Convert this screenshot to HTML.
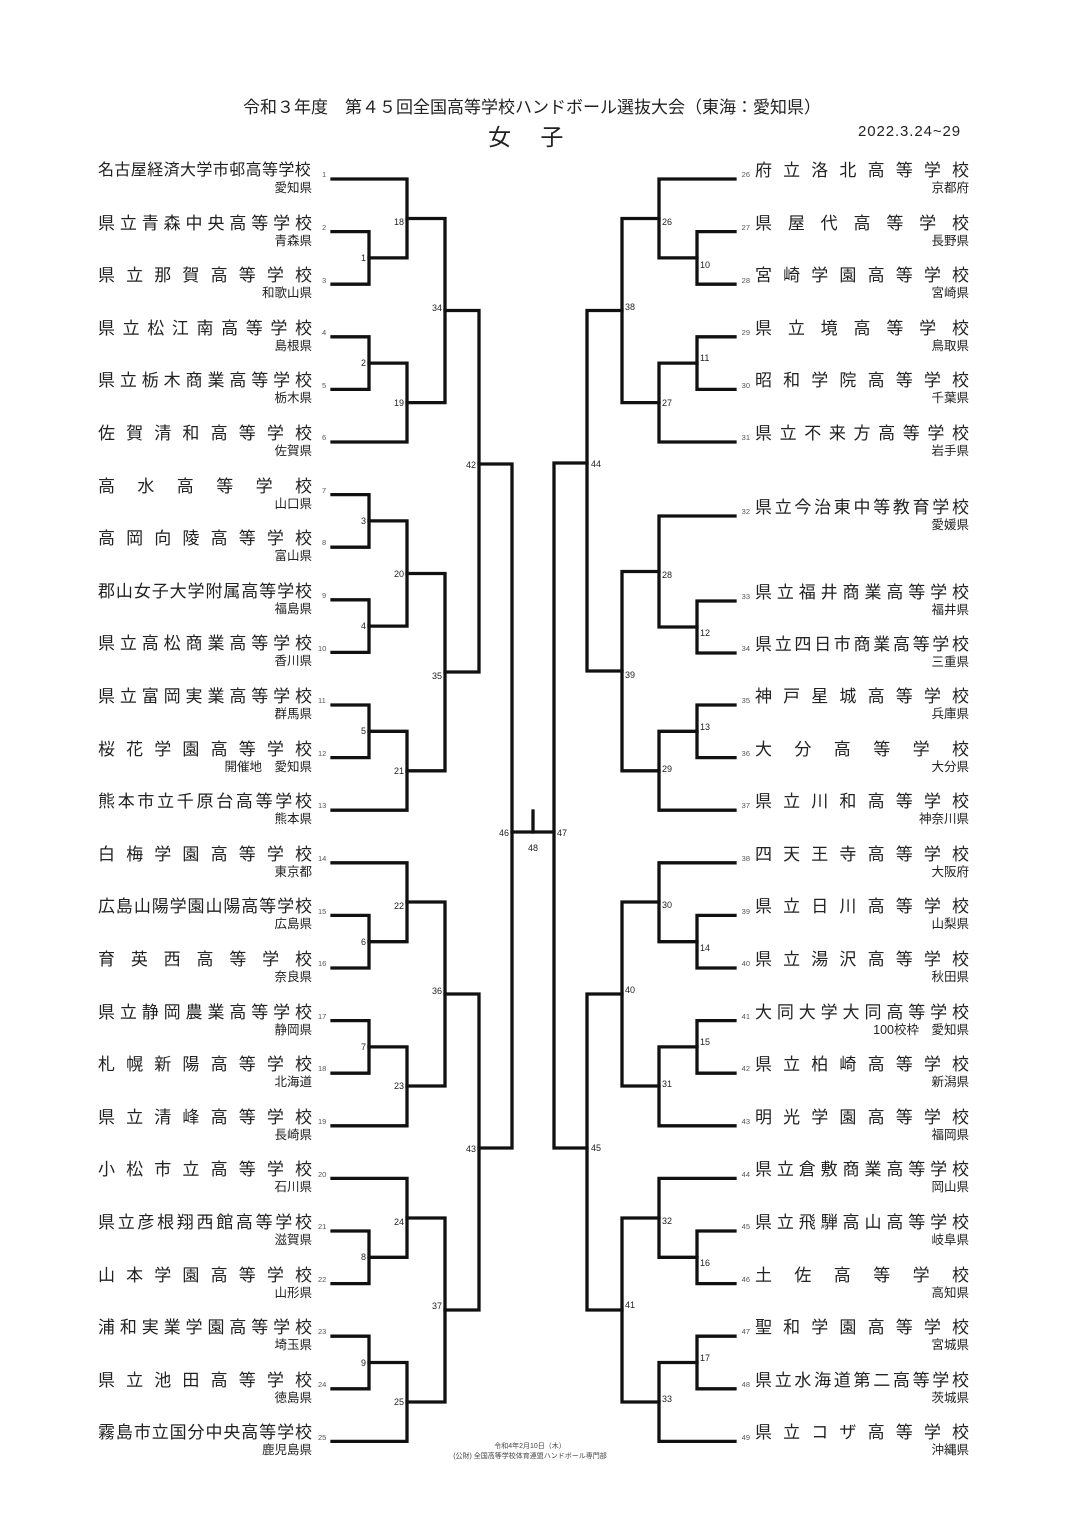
<!DOCTYPE html>
<html><head><meta charset="utf-8">
<style>
body{margin:0;background:#fff;}
#pg{position:relative;width:1086px;height:1536px;overflow:hidden;background:#fff;font-family:"Liberation Sans","Noto Sans CJK JP",sans-serif;color:#222;}
.n{position:absolute;width:214px;font-size:17px;line-height:20px;height:20px;text-align:justify;text-align-last:justify;text-justify:inter-character;white-space:nowrap;}
.p{position:absolute;width:214px;font-size:12.5px;line-height:14px;text-align:right;white-space:nowrap;}
.L{left:98px}.R{left:755px}
svg{position:absolute;left:0;top:0}
</style></head><body><div id="pg">
<div style="position:absolute;left:243px;top:97px;font-size:17px;line-height:22px;white-space:nowrap;">令和３年度　第４５回全国高等学校ハンドボール選抜大会（東海：愛知県）</div>
<div style="position:absolute;left:488px;top:123px;font-size:23px;line-height:28px;white-space:nowrap;">女　 子</div>
<div style="position:absolute;left:858px;top:123px;font-size:15px;letter-spacing:0.9px;line-height:18px;white-space:nowrap;">2022.3.24~29</div>
<div style="position:absolute;left:430px;top:1442px;width:200px;text-align:center;font-size:7px;line-height:10px;color:#444;">令和4年2月10日（木）<br>(公財) 全国高等学校体育連盟ハンドボール専門部</div>

<!-- left names -->
<div class="n L" style="top:161px;font-size:16px;text-align:left;text-align-last:left;letter-spacing:0.4px">名古屋経済大学市邨高等学校</div><div class="p L" style="top:181px">愛知県</div>
<div class="n L" style="top:213.6px">県立青森中央高等学校</div><div class="p L" style="top:233.6px">青森県</div>
<div class="n L" style="top:266.2px">県立那賀高等学校</div><div class="p L" style="top:286.2px">和歌山県</div>
<div class="n L" style="top:318.8px">県立松江南高等学校</div><div class="p L" style="top:338.8px">島根県</div>
<div class="n L" style="top:371.4px">県立栃木商業高等学校</div><div class="p L" style="top:391.4px">栃木県</div>
<div class="n L" style="top:424px">佐賀清和高等学校</div><div class="p L" style="top:444px">佐賀県</div>
<div class="n L" style="top:476.6px">高水高等学校</div><div class="p L" style="top:496.6px">山口県</div>
<div class="n L" style="top:529.2px">高岡向陵高等学校</div><div class="p L" style="top:549.2px">富山県</div>
<div class="n L" style="top:581.8px">郡山女子大学附属高等学校</div><div class="p L" style="top:601.8px">福島県</div>
<div class="n L" style="top:634.4px">県立高松商業高等学校</div><div class="p L" style="top:654.4px">香川県</div>
<div class="n L" style="top:687px">県立富岡実業高等学校</div><div class="p L" style="top:707px">群馬県</div>
<div class="n L" style="top:739.6px">桜花学園高等学校</div><div class="p L" style="top:759.6px">開催地　愛知県</div>
<div class="n L" style="top:792.2px">熊本市立千原台高等学校</div><div class="p L" style="top:812.2px">熊本県</div>
<div class="n L" style="top:844.8px">白梅学園高等学校</div><div class="p L" style="top:864.8px">東京都</div>
<div class="n L" style="top:897.4px">広島山陽学園山陽高等学校</div><div class="p L" style="top:917.4px">広島県</div>
<div class="n L" style="top:950px">育英西高等学校</div><div class="p L" style="top:970px">奈良県</div>
<div class="n L" style="top:1002.6px">県立静岡農業高等学校</div><div class="p L" style="top:1022.6px">静岡県</div>
<div class="n L" style="top:1055.2px">札幌新陽高等学校</div><div class="p L" style="top:1075.2px">北海道</div>
<div class="n L" style="top:1107.8px">県立清峰高等学校</div><div class="p L" style="top:1127.8px">長崎県</div>
<div class="n L" style="top:1160.4px">小松市立高等学校</div><div class="p L" style="top:1180.4px">石川県</div>
<div class="n L" style="top:1213px">県立彦根翔西館高等学校</div><div class="p L" style="top:1233px">滋賀県</div>
<div class="n L" style="top:1265.6px">山本学園高等学校</div><div class="p L" style="top:1285.6px">山形県</div>
<div class="n L" style="top:1318.2px">浦和実業学園高等学校</div><div class="p L" style="top:1338.2px">埼玉県</div>
<div class="n L" style="top:1370.8px">県立池田高等学校</div><div class="p L" style="top:1390.8px">徳島県</div>
<div class="n L" style="top:1423.4px">霧島市立国分中央高等学校</div><div class="p L" style="top:1443.4px">鹿児島県</div>

<!-- right names -->
<div class="n R" style="top:161px">府立洛北高等学校</div><div class="p R" style="top:181px">京都府</div>
<div class="n R" style="top:213.6px">県屋代高等学校</div><div class="p R" style="top:233.6px">長野県</div>
<div class="n R" style="top:266.2px">宮崎学園高等学校</div><div class="p R" style="top:286.2px">宮崎県</div>
<div class="n R" style="top:318.8px">県立境高等学校</div><div class="p R" style="top:338.8px">鳥取県</div>
<div class="n R" style="top:371.4px">昭和学院高等学校</div><div class="p R" style="top:391.4px">千葉県</div>
<div class="n R" style="top:424px">県立不来方高等学校</div><div class="p R" style="top:444px">岩手県</div>
<div class="n R" style="top:498px">県立今治東中等教育学校</div><div class="p R" style="top:518px">愛媛県</div>
<div class="n R" style="top:583px">県立福井商業高等学校</div><div class="p R" style="top:603px">福井県</div>
<div class="n R" style="top:635px">県立四日市商業高等学校</div><div class="p R" style="top:655px">三重県</div>
<div class="n R" style="top:687px">神戸星城高等学校</div><div class="p R" style="top:707px">兵庫県</div>
<div class="n R" style="top:739.6px">大分高等学校</div><div class="p R" style="top:759.6px">大分県</div>
<div class="n R" style="top:792.2px">県立川和高等学校</div><div class="p R" style="top:812.2px">神奈川県</div>
<div class="n R" style="top:844.8px">四天王寺高等学校</div><div class="p R" style="top:864.8px">大阪府</div>
<div class="n R" style="top:897.4px">県立日川高等学校</div><div class="p R" style="top:917.4px">山梨県</div>
<div class="n R" style="top:950px">県立湯沢高等学校</div><div class="p R" style="top:970px">秋田県</div>
<div class="n R" style="top:1002.6px">大同大学大同高等学校</div><div class="p R" style="top:1022.6px">100校枠　愛知県</div>
<div class="n R" style="top:1055.2px">県立柏崎高等学校</div><div class="p R" style="top:1075.2px">新潟県</div>
<div class="n R" style="top:1107.8px">明光学園高等学校</div><div class="p R" style="top:1127.8px">福岡県</div>
<div class="n R" style="top:1160.4px">県立倉敷商業高等学校</div><div class="p R" style="top:1180.4px">岡山県</div>
<div class="n R" style="top:1213px">県立飛騨高山高等学校</div><div class="p R" style="top:1233px">岐阜県</div>
<div class="n R" style="top:1265.6px">土佐高等学校</div><div class="p R" style="top:1285.6px">高知県</div>
<div class="n R" style="top:1318.2px">聖和学園高等学校</div><div class="p R" style="top:1338.2px">宮城県</div>
<div class="n R" style="top:1370.8px">県立水海道第二高等学校</div><div class="p R" style="top:1390.8px">茨城県</div>
<div class="n R" style="top:1423.4px">県立コザ高等学校</div><div class="p R" style="top:1443.4px">沖縄県</div>

<svg width="1086" height="1536" viewBox="0 0 1086 1536">
<g fill="none" stroke="#111" stroke-width="3.3" stroke-linejoin="miter" stroke-linecap="square">
<path d="M332 231.6H369V284.2H332"/>
<path d="M332 336.8H369V389.4H332"/>
<path d="M332 494.6H369V547.2H332"/>
<path d="M332 599.8H369V652.4H332"/>
<path d="M332 705H369V757.6H332"/>
<path d="M332 915.4H369V968H332"/>
<path d="M332 1020.6H369V1073.2H332"/>
<path d="M332 1231H369V1283.6H332"/>
<path d="M332 1336.2H369V1388.8H332"/>
<path d="M332 179H407V257.9H369"/>
<path d="M369 363.1H407V442H332"/>
<path d="M369 520.9H407V626.1H369"/>
<path d="M369 731.3H407V810.2H332"/>
<path d="M332 862.8H407V941.7H369"/>
<path d="M369 1046.9H407V1125.8H332"/>
<path d="M332 1178.4H407V1257.3H369"/>
<path d="M369 1362.5H407V1441.4H332"/>
<path d="M407 218.5H445V402.6H407"/>
<path d="M407 573.5H445V770.8H407"/>
<path d="M407 902H445V1086H407"/>
<path d="M407 1218H445V1402H407"/>
<path d="M445 310.5H479V672H445"/>
<path d="M445 994H479V1310H445"/>
<path d="M479 464H512V1148H479"/>
<path d="M512 832H554"/>
<path d="M533 811V832"/>
<path d="M735 231.6H697V284.2H735"/>
<path d="M735 336.8H697V389.4H735"/>
<path d="M735 601H697V653H735"/>
<path d="M735 705H697V757.6H735"/>
<path d="M735 915.4H697V968H735"/>
<path d="M735 1020.6H697V1073.2H735"/>
<path d="M735 1231H697V1283.6H735"/>
<path d="M735 1336.2H697V1388.8H735"/>
<path d="M735 179H659V257.9H697"/>
<path d="M697 363.1H659V442H735"/>
<path d="M735 516H659V627H697"/>
<path d="M697 731.3H659V810.2H735"/>
<path d="M735 862.8H659V941.7H697"/>
<path d="M697 1046.9H659V1125.8H735"/>
<path d="M735 1178.4H659V1257.3H697"/>
<path d="M697 1362.5H659V1441.4H735"/>
<path d="M659 218.5H622V402.6H659"/>
<path d="M659 571.5H622V770.8H659"/>
<path d="M659 902H622V1086H659"/>
<path d="M659 1218H622V1402H659"/>
<path d="M622 310.5H587V671H622"/>
<path d="M622 994H587V1310H622"/>
<path d="M587 463H554V1148H587"/>
</g>
<g font-family="Liberation Sans, sans-serif" font-size="9" fill="#222">
<g text-anchor="end">
<text x="366" y="261">1</text><text x="366" y="366">2</text><text x="366" y="524">3</text><text x="366" y="629">4</text><text x="366" y="734">5</text><text x="366" y="945">6</text><text x="366" y="1050">7</text><text x="366" y="1260">8</text><text x="366" y="1366">9</text>
<text x="404" y="225">18</text><text x="404" y="406">19</text><text x="404" y="577">20</text><text x="404" y="774">21</text><text x="404" y="909">22</text><text x="404" y="1089">23</text><text x="404" y="1225">24</text><text x="404" y="1405">25</text>
<text x="442" y="311">34</text><text x="442" y="679">35</text><text x="442" y="994">36</text><text x="442" y="1309">37</text>
<text x="476" y="468">42</text><text x="476" y="1152">43</text>
<text x="509" y="836">46</text>
</g>
<text x="700" y="268">10</text><text x="700" y="361">11</text><text x="700" y="636">12</text><text x="700" y="730">13</text><text x="700" y="951">14</text><text x="700" y="1045">15</text><text x="700" y="1266">16</text><text x="700" y="1361">17</text>
<text x="662" y="225">26</text><text x="662" y="406">27</text><text x="662" y="578">28</text><text x="662" y="772">29</text><text x="662" y="908">30</text><text x="662" y="1087">31</text><text x="662" y="1224">32</text><text x="662" y="1402">33</text>
<text x="625" y="310">38</text><text x="625" y="678">39</text><text x="625" y="993">40</text><text x="625" y="1308">41</text>
<text x="591" y="467">44</text><text x="591" y="1151">45</text>
<text x="557" y="836">47</text>
<text x="528" y="851">48</text>
</g>
<g font-family="Liberation Sans, sans-serif" font-size="7.5" fill="#555">
<g text-anchor="start">
<text x="322" y="177">1</text><text x="322" y="230">2</text><text x="322" y="283">3</text><text x="322" y="335">4</text><text x="322" y="388">5</text><text x="322" y="440">6</text><text x="322" y="493">7</text><text x="322" y="545">8</text><text x="322" y="598">9</text><text x="318" y="651">10</text><text x="318" y="703">11</text><text x="318" y="756">12</text><text x="318" y="808">13</text><text x="318" y="861">14</text><text x="318" y="914">15</text><text x="318" y="966">16</text><text x="318" y="1019">17</text><text x="318" y="1071">18</text><text x="318" y="1124">19</text><text x="318" y="1177">20</text><text x="318" y="1229">21</text><text x="318" y="1282">22</text><text x="318" y="1334">23</text><text x="318" y="1387">24</text><text x="318" y="1440">25</text>
</g>
<g text-anchor="end">
<text x="750" y="177">26</text><text x="750" y="230">27</text><text x="750" y="283">28</text><text x="750" y="335">29</text><text x="750" y="388">30</text><text x="750" y="440">31</text><text x="750" y="514">32</text><text x="750" y="599">33</text><text x="750" y="651">34</text><text x="750" y="703">35</text><text x="750" y="756">36</text><text x="750" y="808">37</text><text x="750" y="861">38</text><text x="750" y="914">39</text><text x="750" y="966">40</text><text x="750" y="1019">41</text><text x="750" y="1071">42</text><text x="750" y="1124">43</text><text x="750" y="1177">44</text><text x="750" y="1229">45</text><text x="750" y="1282">46</text><text x="750" y="1334">47</text><text x="750" y="1387">48</text><text x="750" y="1440">49</text>
</g>
</g>
</svg>
</div></body></html>
